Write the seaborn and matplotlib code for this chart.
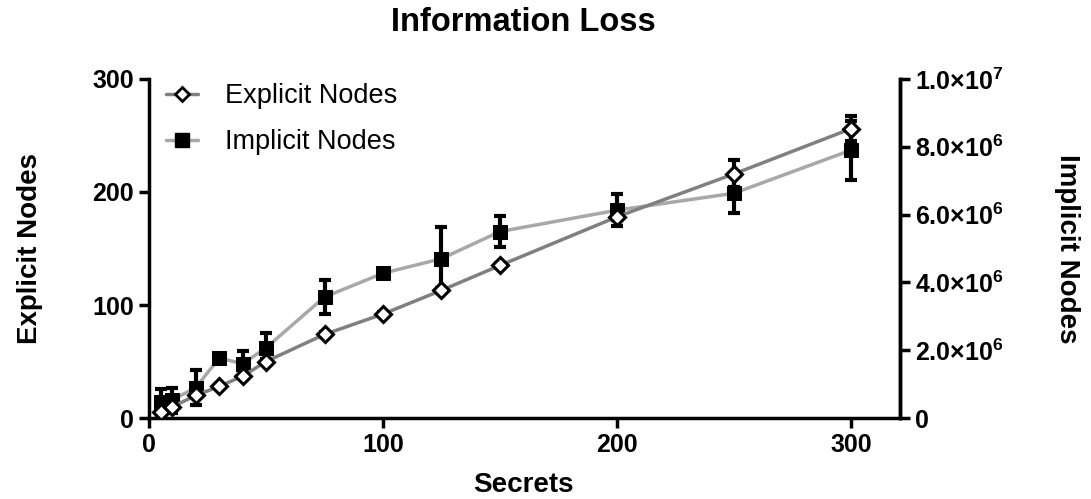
import numpy as np
import pandas as pd
import matplotlib
matplotlib.use("Agg")
import matplotlib.pyplot as plt
import seaborn as sns
from matplotlib.ticker import FuncFormatter
from matplotlib.lines import Line2D

secrets = [5, 10, 20, 30, 40, 50, 75, 100, 125, 150, 200, 250, 300]
explicit_nodes = [5, 10, 20, 28, 37, 50, 74, 92, 113, 135, 178, 216, 256]
explicit_err = [1, 1, 1, 1, 1, 2, 2, 2, 2, 2, 3, 12, 11]
implicit_nodes = [0.47e6, 0.53e6, 0.90e6, 1.77e6, 1.60e6, 2.07e6, 3.57e6, 4.27e6, 4.70e6, 5.50e6, 6.13e6, 6.63e6, 7.90e6]
implicit_err = [0.40e6, 0.37e6, 0.52e6, 0.10e6, 0.37e6, 0.43e6, 0.50e6, 0.05e6, 0.93e6, 0.45e6, 0.47e6, 0.57e6, 0.87e6]
right_ticks = [0, 2e6, 4e6, 6e6, 8e6, 1e7]

sns.set_style("ticks")
plt.rcParams['font.family'] = ['Liberation Sans', 'DejaVu Sans']
plt.rcParams['mathtext.fontset'] = 'custom'
plt.rcParams['mathtext.rm'] = 'Liberation Sans:bold'
plt.rcParams['mathtext.bf'] = 'Liberation Sans:bold'
plt.rcParams['mathtext.it'] = 'Liberation Sans:bold'
for k in ['text.color', 'axes.labelcolor', 'xtick.color', 'ytick.color', 'axes.edgecolor']:
    plt.rcParams[k] = 'black'

df = pd.DataFrame({"Secrets": secrets, "Explicit": explicit_nodes, "Implicit": implicit_nodes})

fig = plt.figure(figsize=(10.91, 4.99), dpi=100)
ax = fig.add_axes([0.1366, 0.1623, 0.825 - 0.1366, 0.8417 - 0.1623])
ax2 = ax.twinx()

exp_col = "#808080"
imp_col = "#a8a8a8"

# implicit on right axis
ax2.errorbar(secrets, implicit_nodes, yerr=implicit_err, fmt='none', ecolor='black',
             elinewidth=3, capsize=4.5, capthick=3, zorder=2)
sns.lineplot(data=df, x="Secrets", y="Implicit", ax=ax2, color=imp_col, lw=2.5,
             marker='s', markersize=10, markerfacecolor='black', markeredgecolor='black', zorder=3)

# explicit on left axis
ax.errorbar(secrets, explicit_nodes, yerr=explicit_err, fmt='none', ecolor='black',
            elinewidth=3, capsize=4.5, capthick=3, zorder=2)
sns.lineplot(data=df, x="Secrets", y="Explicit", ax=ax, color=exp_col, lw=2.5,
             marker='D', markersize=8, markerfacecolor='white', markeredgecolor='black',
             markeredgewidth=2.2, zorder=3)

ax.set_zorder(ax2.get_zorder() + 1)
ax.patch.set_visible(False)

ax.set_xlim(0, 321)
ax.set_ylim(0, 300)
ax2.set_ylim(0, 1e7)
ax.set_xticks([0, 100, 200, 300])
ax.set_yticks([0, 100, 200, 300])
ax2.set_yticks(right_ticks)

def fmt(v, pos):
    if v == 0:
        return "0"
    e = int(np.floor(np.log10(v)))
    m = v / 10 ** e
    return r"%.1f$\times$10$^{%d}$" % (m, e)

ax2.yaxis.set_major_formatter(FuncFormatter(fmt))

for a in (ax, ax2):
    a.spines['top'].set_visible(False)
    for s in a.spines.values():
        s.set_linewidth(2.5)
        s.set_color('black')
    a.tick_params(width=2.5, length=7, labelsize=18, direction='out', pad=4)
    for lab in a.get_xticklabels() + a.get_yticklabels():
        lab.set_fontweight('bold')
ax2.spines['left'].set_visible(False)
ax2.spines['bottom'].set_visible(False)

ax.set_xlabel("Secrets", fontsize=20, fontweight='bold', va='center')
ax.xaxis.set_label_coords(0.498, -0.198)
ax.set_ylabel("Explicit Nodes", fontsize=20, fontweight='bold', va='center')
ax.yaxis.set_label_coords(-0.158, 0.5)
ax2.set_ylabel("Implicit Nodes", fontsize=20, fontweight='bold', rotation=270, va='center')
ax2.yaxis.set_label_coords(1.222, 0.5)
fig.text(0.48, 0.954, "Information Loss", fontsize=23.5, fontweight='bold', ha='center', va='center')

handles = [
    Line2D([], [], color=exp_col, lw=2.5, marker='D', markersize=7,
           markerfacecolor='white', markeredgecolor='black', markeredgewidth=2),
    Line2D([], [], color=imp_col, lw=2.5, marker='s', markersize=10,
           markerfacecolor='black', markeredgecolor='black'),
]
leg = ax.legend(handles, ["Explicit Nodes", "Implicit Nodes"], loc='upper left',
                bbox_to_anchor=(-0.01, 1.06), frameon=False, fontsize=19.5,
                handlelength=1.2, labelspacing=0.75, handletextpad=1.0)

fig.savefig("out.png", dpi=100)
